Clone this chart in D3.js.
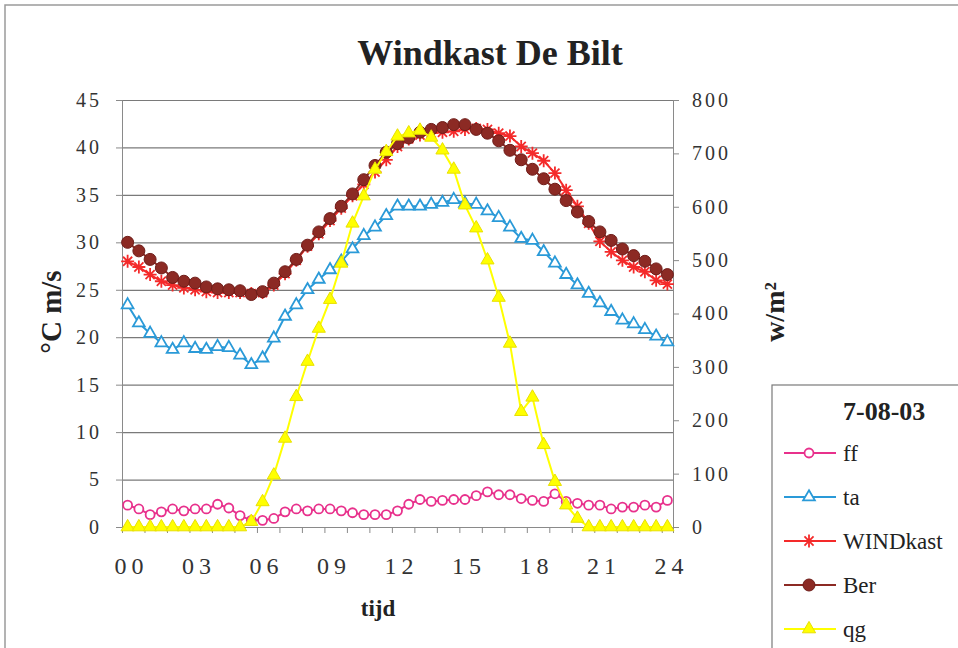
<!DOCTYPE html>
<html>
<head>
<meta charset="utf-8">
<script src="https://d3js.org/d3.v7.min.js"></script>
<style>
    body { margin: 0; background: #fff; }
    text { font-family: "Liberation Serif", "DejaVu Serif", serif; fill: #222; }
</style>
</head>
<body>
<div id="chart"></div>
<script>

    // half-hourly values, 00:00 .. 24:00
    var ff = [2.3,1.9,1.3,1.6,1.9,1.7,1.9,1.9,2.4,2.0,1.2,0.7,0.7,0.9,1.6,1.9,1.7,1.9,1.9,1.7,1.5,1.3,1.3,1.3,1.7,2.4,
              2.9,2.7,2.8,2.9,2.9,3.3,3.7,3.4,3.4,3.0,2.8,2.7,3.5,2.7,2.5,2.3,2.3,1.9,2.1,2.1,2.3,2.1,2.8];
    var ta = [23.4,21.5,20.4,19.4,18.7,19.4,18.8,18.7,19.0,18.9,18.1,17.1,17.8,19.9,22.2,23.4,
              25.0,26.1,27.1,28.0,29.3,30.7,31.6,32.8,33.8,
              33.8,33.8,34.0,34.2,34.5,34.1,34.0,33.3,32.6,31.6,30.4,30.2,29.0,27.8,26.6,25.5,24.6,23.6,22.7,21.8,21.4,20.8,20.1,19.5];
    var windkast = [28.0,27.4,26.6,25.9,25.5,25.2,25.0,24.8,24.7,24.7,24.7,24.6,24.7,25.5,26.7,28.1,29.6,30.9,32.3,33.6,34.9,36.1,37.4,38.7,
              40.1,40.9,41.3,41.5,41.6,41.7,41.9,42.0,41.9,41.5,41.2,40.1,39.4,38.6,37.3,35.5,33.8,32.0,30.1,29.0,28.1,27.4,26.9,26.0,25.6];
    var ber = [30.0,29.1,28.2,27.3,26.3,25.9,25.7,25.3,25.1,25.0,24.9,24.5,24.8,25.7,26.9,28.2,29.7,31.1,32.5,33.8,35.1,36.6,38.1,39.5,40.4,
              41.0,41.6,41.9,42.1,42.4,42.4,41.9,41.5,40.7,39.7,38.7,37.7,36.7,35.6,34.4,33.2,32.2,31.1,30.2,29.3,28.6,28.0,27.2,26.6];
    var qg = [0,0,0,0,0,0,0,0,0,0,0,10,47,97,166,244,310,372,426,494,569,620,670,703,
              732,738,743,730,706,670,603,560,500,430,344,216,243,154,85,41,16,0,0,0,0,0,0,0,0];

    var hourLabels = ["00","03","06","09","12","15","18","21","24"];
    var leftTicks = [0,5,10,15,20,25,30,35,40,45];
    var rightTicks = [0,100,200,300,400,500,600,700,800];

    var W = 958, H = 648;
    var margin = {left: 122, right: 673, top: 100, bottom: 527};

    var svg = d3.select("#chart").append("svg")
        .attr("width", W)
        .attr("height", H);

    // outer chart border (only top and left visible)
    svg.append("path")
        .attr("d", "M5," + H + "V5H" + W)
        .attr("fill", "none")
        .attr("stroke", "#9a9a9a")
        .attr("stroke-width", 1.5);

    var idx = d3.range(ff.length);
    var x = d3.scaleBand().domain(idx).range([margin.left, margin.right]);
    var xc = function(i) { return x(i) + x.bandwidth() / 2; };
    var xLin = d3.scaleLinear().domain([0, idx.length]).range([margin.left, margin.right]);

    var yL = d3.scaleLinear().domain([0, 45]).range([margin.bottom, margin.top]);
    var yR = d3.scaleLinear().domain([0, 800]).range([margin.bottom, margin.top]);

    // grid
    svg.append("g")
        .attr("transform", "translate(" + margin.left + ",0)")
        .call(d3.axisLeft(yL).tickValues(leftTicks).tickSize(-(margin.right - margin.left)).tickFormat(""))
        .call(g => g.select(".domain").remove())
        .call(g => g.selectAll("line").attr("stroke", "#7a7a7a").attr("stroke-width", 1.2));

    // left axis
    svg.append("g")
        .attr("transform", "translate(" + margin.left + ",0)")
        .call(d3.axisLeft(yL).tickValues(leftTicks).tickSize(6).tickPadding(14))
        .call(g => g.select(".domain").attr("stroke", "#8a8a8a"))
        .call(g => g.selectAll("line").attr("stroke", "#8a8a8a"))
        .call(g => g.selectAll("text").style("font-size", "20px").attr("letter-spacing", "3px").style("fill", "#333"));

    // right axis
    svg.append("g")
        .attr("transform", "translate(" + margin.right + ",0)")
        .call(d3.axisRight(yR).tickValues(rightTicks).tickSize(6).tickPadding(13))
        .call(g => g.select(".domain").attr("stroke", "#8a8a8a"))
        .call(g => g.selectAll("line").attr("stroke", "#8a8a8a"))
        .call(g => g.selectAll("text").style("font-size", "20px").attr("letter-spacing", "3px").style("fill", "#333"));

    // x axis ticks every hour
    svg.append("g")
        .attr("transform", "translate(0," + margin.bottom + ")")
        .call(d3.axisBottom(xLin).tickValues(d3.range(0, idx.length + 1, 2)).tickSize(6).tickFormat(""))
        .call(g => g.select(".domain").attr("stroke", "#8a8a8a"))
        .call(g => g.selectAll("line").attr("stroke", "#8a8a8a"));

    // x labels every 3 hours
    svg.append("g")
        .attr("transform", "translate(4," + margin.bottom + ")")
        .call(d3.axisBottom(x).tickValues(d3.range(0, idx.length, 6)).tickSize(0).tickPadding(30)
            .tickFormat(function(d) { return hourLabels[d / 6]; }))
        .call(g => g.select(".domain").remove())
        .call(g => g.selectAll("text").style("font-size", "24px").attr("letter-spacing", "5px").style("fill", "#333"));

    // titles
    svg.append("text")
        .attr("x", 490).attr("y", 65)
        .attr("text-anchor", "middle")
        .style("font-size", "36px").style("font-weight", "bold")
        .text("Windkast De Bilt");

    svg.append("text")
        .attr("transform", "translate(61,312) rotate(-90)")
        .attr("text-anchor", "middle")
        .style("font-size", "29px").style("font-weight", "bold")
        .text("°C  m/s");

    svg.append("text")
        .attr("transform", "translate(784,312) rotate(-90)")
        .attr("text-anchor", "middle")
        .style("font-size", "28px").style("font-weight", "bold")
        .text("w/m²");

    svg.append("text")
        .attr("x", 378).attr("y", 616)
        .attr("text-anchor", "middle")
        .style("font-size", "23px").style("font-weight", "bold")
        .text("tijd");

    // marker drawing
    function asterisk(s) {
        var a = s * 0.7;
        return "M0," + (-s) + "V" + s + "M" + (-a) + "," + (-a) + "L" + a + "," + a + "M" + (-a) + "," + a + "L" + a + "," + (-a) + "M" + (-s) + ",0H" + s;
    }

    var series = [
        {name: "ff", values: ff, y: yL, color: "#e8318c", marker: "circle"},
        {name: "ta", values: ta, y: yL, color: "#2a9ad8", marker: "triangle"},
        {name: "WINDkast", values: windkast, y: yL, color: "#f42a2a", marker: "star"},
        {name: "Ber", values: ber, y: yL, color: "#8c2a24", marker: "dot"},
        {name: "qg", values: qg, y: yR, color: "#ffff00", marker: "filltri"}
    ];

    function drawMarker(sel, s) {
        if (s.marker === "circle") {
            sel.append("circle").attr("r", 4.5)
                .attr("fill", "#fff").attr("stroke", s.color).attr("stroke-width", 1.8);
        } else if (s.marker === "triangle") {
            sel.append("path").attr("d", d3.symbol().type(d3.symbolTriangle).size(60)())
                .attr("fill", "#fff").attr("stroke", s.color).attr("stroke-width", 1.8);
        } else if (s.marker === "star") {
            sel.append("path").attr("d", asterisk(6.5))
                .attr("fill", "none").attr("stroke", s.color).attr("stroke-width", 1.8);
        } else if (s.marker === "dot") {
            sel.append("circle").attr("r", 6)
                .attr("fill", s.color).attr("stroke", "#6e1c18").attr("stroke-width", 1);
        } else {
            sel.append("path").attr("d", d3.symbol().type(d3.symbolTriangle).size(75)())
                .attr("fill", s.color).attr("stroke", "#e8e000").attr("stroke-width", 1);
        }
    }

    var plot = svg.append("g");

    series.forEach(function(s) {
        var g = plot.append("g");
        g.append("path")
            .datum(s.values)
            .attr("fill", "none")
            .attr("stroke", s.color)
            .attr("stroke-width", 2)
            .attr("d", d3.line()
                .x(function(d, i) { return xc(i); })
                .y(function(d) { return s.y(d); }));

        g.selectAll(".m")
            .data(s.values)
            .enter().append("g")
            .attr("transform", function(d, i) { return "translate(" + xc(i) + "," + s.y(d) + ")"; })
            .each(function() { drawMarker(d3.select(this), s); });
    });

    // legend (box runs off the right and bottom edge)
    var legend = svg.append("g").attr("transform", "translate(772,385)");
    legend.append("rect")
        .attr("width", 300).attr("height", 320)
        .attr("fill", "#fff").attr("stroke", "#7a7a7a").attr("stroke-width", 1.2);
    legend.append("text")
        .attr("x", 71).attr("y", 35)
        .style("font-size", "26px").style("font-weight", "bold")
        .text("7-08-03");

    series.forEach(function(s, i) {
        var row = legend.append("g").attr("transform", "translate(0," + (68 + i * 44) + ")");
        row.append("line")
            .attr("x1", 12).attr("x2", 64)
            .attr("stroke", s.color).attr("stroke-width", 2);
        var m = row.append("g").attr("transform", "translate(37,0)");
        drawMarker(m, s);
        row.append("text")
            .attr("x", 71).attr("y", 8)
            .style("font-size", "23px")
            .text(s.name);
    });

</script>
</body>
</html>
